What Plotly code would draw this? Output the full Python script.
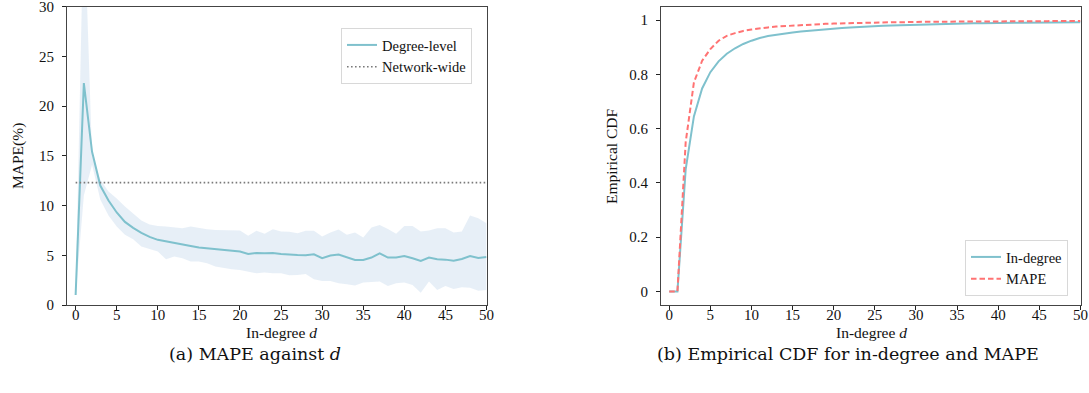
import plotly.graph_objects as go

# ---------------- data ----------------
degree = list(range(51))

degree_mape = [1.0, 22.3, 15.4, 12.0, 10.5, 9.3, 8.35, 7.75, 7.25, 6.85, 6.55, 6.38, 6.24, 6.1, 5.94,
               5.78, 5.7, 5.6, 5.5, 5.4, 5.37, 5.13, 5.23, 5.2, 5.23, 5.13, 5.05, 5.03, 5.0, 5.1,
               4.7, 4.97, 5.07, 4.8, 4.53, 4.53, 4.77, 5.2, 4.77, 4.77, 4.93, 4.7, 4.43, 4.77, 4.6,
               4.56, 4.46, 4.63, 4.93, 4.73, 4.83]
band_upper = [1.0, 40.0, 15.0, 12.6, 11.4, 10.7, 9.9, 9.2, 8.5, 8.1, 7.95, 7.89, 7.82, 7.72, 7.89,
              7.72, 7.62, 7.55, 7.55, 7.48, 7.48, 6.95, 7.45, 7.15, 7.62, 7.38, 7.35, 7.2, 7.45, 7.45,
              6.88, 7.28, 7.6, 7.05, 7.28, 6.78, 7.78, 8.05, 7.65, 7.15, 7.95, 7.95, 7.38, 7.48, 7.72,
              7.72, 7.28, 7.38, 9.0, 8.72, 8.22]
band_lower = [1.0, 11.0, 14.1, 10.6, 9.0, 7.9, 7.05, 6.6, 5.87, 5.6, 5.37, 4.6, 4.87, 4.7, 4.36,
              4.36, 4.19, 3.86, 3.69, 3.59, 3.52, 3.36, 3.19, 3.26, 3.19, 3.2, 3.0, 3.02, 3.12, 2.58,
              2.42, 2.42, 2.18, 2.08, 1.95, 2.25, 2.32, 2.35, 1.91, 2.18, 2.25, 2.01, 1.24, 2.35, 1.51,
              1.91, 1.61, 1.78, 1.74, 1.44, 1.51]
network_wide = 12.3

indegree_cdf = [0.0, 0.0, 0.45, 0.645, 0.748, 0.808, 0.848, 0.876, 0.896, 0.912, 0.924, 0.934, 0.941,
                0.946, 0.950, 0.954, 0.958, 0.961, 0.964, 0.967, 0.969, 0.971, 0.973, 0.975, 0.976,
                0.978, 0.979, 0.980, 0.981, 0.982, 0.983, 0.984, 0.985, 0.985, 0.986, 0.987, 0.987,
                0.988, 0.988, 0.989, 0.989, 0.989, 0.990, 0.990, 0.990, 0.991, 0.991, 0.991, 0.992,
                0.992, 0.992]
mape_cdf = [0.0, 0.0, 0.55, 0.77, 0.85, 0.893, 0.924, 0.942, 0.952, 0.960, 0.965, 0.970, 0.973,
            0.976, 0.978, 0.980, 0.982, 0.983, 0.985, 0.986, 0.987, 0.988, 0.989, 0.990, 0.990,
            0.991, 0.991, 0.992, 0.992, 0.993, 0.993, 0.993, 0.994, 0.994, 0.994, 0.994, 0.995,
            0.995, 0.995, 0.995, 0.995, 0.996, 0.996, 0.996, 0.996, 0.996, 0.996, 0.997, 0.997,
            0.997, 0.997]

x_ticks = [0, 5, 10, 15, 20, 25, 30, 35, 40, 45, 50]
y_ticks_a = [0, 5, 10, 15, 20, 25, 30]
y_ticks_b = [0, 0.2, 0.4, 0.6, 0.8, 1]
y_ticklabels_b = ["0", "0.2", "0.4", "0.6", "0.8", "1"]

# ---------------- style ----------------
W, H = 1089, 393
FONT = "Liberation Serif"
CAPFONT = "DejaVu Serif"
BLUE = "#7fc1cd"
RED = "#ff7373"
BAND = "rgba(176,203,228,0.30)"
GRAY = "#7a7a7a"
SPINE = "#444444"


def px(x):
    return x / W


def py(y):
    return 1 - y / H


fig = go.Figure()

# (a) band
fig.add_trace(go.Scatter(x=degree, y=band_upper, mode="lines", line=dict(width=0),
                         showlegend=False, hoverinfo="skip", xaxis="x", yaxis="y"))
fig.add_trace(go.Scatter(x=degree, y=band_lower, mode="lines", line=dict(width=0),
                         fill="tonexty", fillcolor=BAND,
                         showlegend=False, hoverinfo="skip", xaxis="x", yaxis="y"))
fig.add_trace(go.Scatter(x=degree, y=degree_mape, mode="lines", name="Degree-level",
                         line=dict(color=BLUE, width=2), xaxis="x", yaxis="y", legend="legend"))
fig.add_trace(go.Scatter(x=[degree[0], degree[-1]], y=[network_wide, network_wide], mode="lines",
                         name="Network-wide", line=dict(color=GRAY, width=1.6, dash="1.6px,2.4px"),
                         xaxis="x", yaxis="y", legend="legend"))

# (b) CDFs
fig.add_trace(go.Scatter(x=degree, y=indegree_cdf, mode="lines", name="In-degree",
                         line=dict(color=BLUE, width=2), xaxis="x2", yaxis="y2", legend="legend2"))
fig.add_trace(go.Scatter(x=degree, y=mape_cdf, mode="lines", name="MAPE",
                         line=dict(color=RED, width=2, dash="5.5px,3px"),
                         xaxis="x2", yaxis="y2", legend="legend2"))

axis_common = dict(showline=True, linecolor=SPINE, linewidth=1, mirror=True,
                   ticks="outside", ticklen=4, tickwidth=1, tickcolor="#222",
                   showgrid=False, zeroline=False, automargin=False,
                   ticklabeloverflow="allow",
                   tickfont=dict(family=FONT, size=15, color="#111"))
xaxis_extra = dict(ticklabelstandoff=-8)
yaxis_extra = dict(ticklabelstandoff=5)

legend_common = dict(bgcolor="white", bordercolor="#d8d8d8",
                     borderwidth=1, font=dict(family=FONT, size=14.5, color="#111"),
                     tracegroupgap=0, itemwidth=30, traceorder="normal")

ann_title = dict(family=FONT, size=15.5, color="#111")
ann_cap = dict(family=CAPFONT, size=17.5, color="#111")


def ann(text, x, y, font, angle=0):
    return dict(text=text, x=px(x), y=py(y), xref="paper", yref="paper", xanchor="center",
                yanchor="middle", textangle=angle, showarrow=False, font=font)


fig.update_layout(
    width=W, height=H,
    margin=dict(l=0, r=0, t=0, b=0, autoexpand=False),
    paper_bgcolor="white", plot_bgcolor="white",
    font=dict(family=FONT, size=14, color="#111"),
    showlegend=True,
    xaxis=dict(domain=[px(67), px(486.5)], range=[-1.05, 50], tickvals=x_ticks,
               anchor="y", **axis_common, **xaxis_extra),
    yaxis=dict(domain=[py(305), py(6.5)], range=[0, 30], tickvals=y_ticks_a,
               anchor="x", **axis_common, **yaxis_extra),
    xaxis2=dict(domain=[px(661), px(1080.5)], range=[-1, 50], tickvals=x_ticks,
                anchor="y2", **axis_common, **xaxis_extra),
    yaxis2=dict(domain=[py(305), py(6.5)], range=[-0.05, 1.05], tickvals=y_ticks_b,
                ticktext=y_ticklabels_b, anchor="x2", **axis_common, **yaxis_extra),
    legend=dict(x=px(341), y=py(28), xanchor="left", yanchor="top", **legend_common),
    legend2=dict(x=px(965), y=py(296), xanchor="left", yanchor="bottom", **legend_common),
    annotations=[
        ann("MAPE(%)", 18, 156, ann_title, -90),
        ann("Empirical CDF", 611, 156, ann_title, -90),
        ann("In-degree <i>d</i>", 281, 332, ann_title),
        ann("In-degree <i>d</i>", 871, 332, ann_title),
        ann("(a) MAPE against <i>d</i>", 255, 354, ann_cap),
        ann("(b) Empirical CDF for in-degree and MAPE", 848, 354, ann_cap),
    ],
)

fig.write_html("out.html")
